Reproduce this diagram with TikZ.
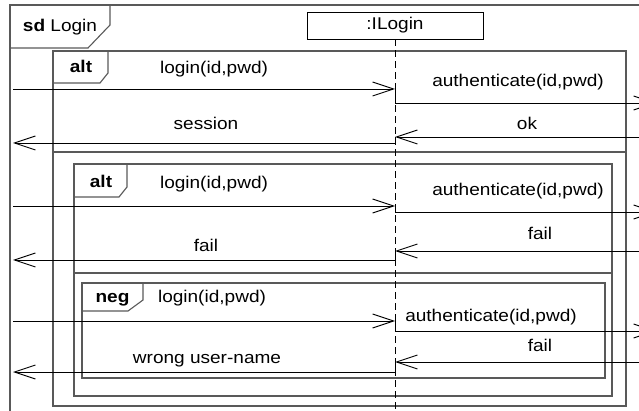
\documentclass[tikz,border=0pt]{standalone}
\usepackage{fontspec}
\setmainfont{Liberation Sans}[FakeStretch=1.12]
\usetikzlibrary{arrows.meta}
\newcommand{\dgmsize}{\fontsize{17}{20}\selectfont}

\begin{document}
\begin{tikzpicture}[x=1pt,y=-1pt,
	frame/.style={draw=black!65,line width=1.1pt},
	msg/.style={line width=0.9pt,-{Straight Barb[length=21pt,width=14pt]}},
	lbl/.style={anchor=base,font=\dgmsize},
	tablbl/.style={anchor=base,font=\dgmsize\bfseries}]
	\useasboundingbox (0,0) rectangle (639,411);
	\clip (0,0) rectangle (639,411);
	%\draw[help lines] (0,0) grid[step=50] (639,411);

	% frames
	\draw[frame] (10,5) rectangle (670,440);
	\draw[frame] (10,48) -- (88,48) -- (110,25) -- (110,5);
	\node[lbl] (sd) at (60,32) {\textbf{sd} Login};

	\draw[frame] (53,51) rectangle (626,406);
	\draw[frame] (53,83) -- (100,83) -- (108,73) -- (108,51);
	\node[tablbl] (altA) at (81,73) {alt};
	\draw[frame] (53,152) -- (626,152);

	\draw[frame] (74,164) rectangle (612,396);
	\draw[frame] (74,197) -- (119,197) -- (127,187) -- (127,164);
	\node[tablbl] (altB) at (101,188) {alt};
	\draw[frame] (74,273) -- (612,273);

	\draw[frame] (82,283) rectangle (605,378);
	\draw[frame] (82,311) -- (128,311) -- (143,300) -- (143,283);
	\node[tablbl] (neg) at (112.5,302) {neg};

	% lifeline
	\node[draw,line width=0.9pt,minimum width=176pt,minimum height=27pt,inner sep=0pt,font=\dgmsize] (ilogin) at (395,25.5) {:ILogin};
	\coordinate (lifeend) at (395,411);
	\draw[line width=0.9pt,dash pattern=on 7pt off 4pt] (ilogin.south) -- (ilogin.south |- lifeend);

	% first operand
	\coordinate (gateA1) at (13,89);
	\coordinate (lifeA1) at (395,89);
	\coordinate (lifeA2) at (395,103);
	\coordinate (gateA2) at (656,103);
	\coordinate (gateA3) at (656,137);
	\coordinate (lifeA3) at (395,137);
	\coordinate (lifeA4) at (395,143);
	\coordinate (gateA4) at (13,143);
	\draw[msg] (gateA1) -- (lifeA1);
	\draw[msg] (lifeA1) -- (lifeA2) -- (gateA2);
	\draw[msg] (gateA3) -- (lifeA3);
	\draw[msg] (lifeA3) -- (lifeA4) -- (gateA4);
	\node[lbl] (loginA) at (214,74) {login(id,pwd)};
	\node[lbl] (authA) at (518,87) {authenticate(id,pwd)};
	\node[lbl] (okA) at (527,130) {ok};
	\node[lbl] (sessionA) at (206,130) {session};

	% second operand
	\coordinate (gateB1) at (13,206);
	\coordinate (lifeB1) at (395,206);
	\coordinate (lifeB2) at (395,212);
	\coordinate (gateB2) at (656,212);
	\coordinate (gateB3) at (656,251);
	\coordinate (lifeB3) at (395,251);
	\coordinate (lifeB4) at (395,260);
	\coordinate (gateB4) at (13,260);
	\draw[msg] (gateB1) -- (lifeB1);
	\draw[msg] (lifeB1) -- (lifeB2) -- (gateB2);
	\draw[msg] (gateB3) -- (lifeB3);
	\draw[msg] (lifeB3) -- (lifeB4) -- (gateB4);
	\node[lbl] (loginB) at (214,189) {login(id,pwd)};
	\node[lbl] (authB) at (518,196) {authenticate(id,pwd)};
	\node[lbl] (failB1) at (540,240) {fail};
	\node[lbl] (failB2) at (206,252) {fail};

	% neg operand
	\coordinate (gateC1) at (13,321);
	\coordinate (lifeC1) at (395,321);
	\coordinate (lifeC2) at (395,331);
	\coordinate (gateC2) at (656,331);
	\coordinate (gateC3) at (656,362);
	\coordinate (lifeC3) at (395,362);
	\coordinate (lifeC4) at (395,372);
	\coordinate (gateC4) at (13,372);
	\draw[msg] (gateC1) -- (lifeC1);
	\draw[msg] (lifeC1) -- (lifeC2) -- (gateC2);
	\draw[msg] (gateC3) -- (lifeC3);
	\draw[msg] (lifeC3) -- (lifeC4) -- (gateC4);
	\node[lbl] (loginC) at (212,302) {login(id,pwd)};
	\node[lbl] (authC) at (491,321) {authenticate(id,pwd)};
	\node[lbl] (failC) at (540,351) {fail};
	\node[lbl] (wrongC) at (207,363) {wrong user-name};
\end{tikzpicture}
\end{document}
